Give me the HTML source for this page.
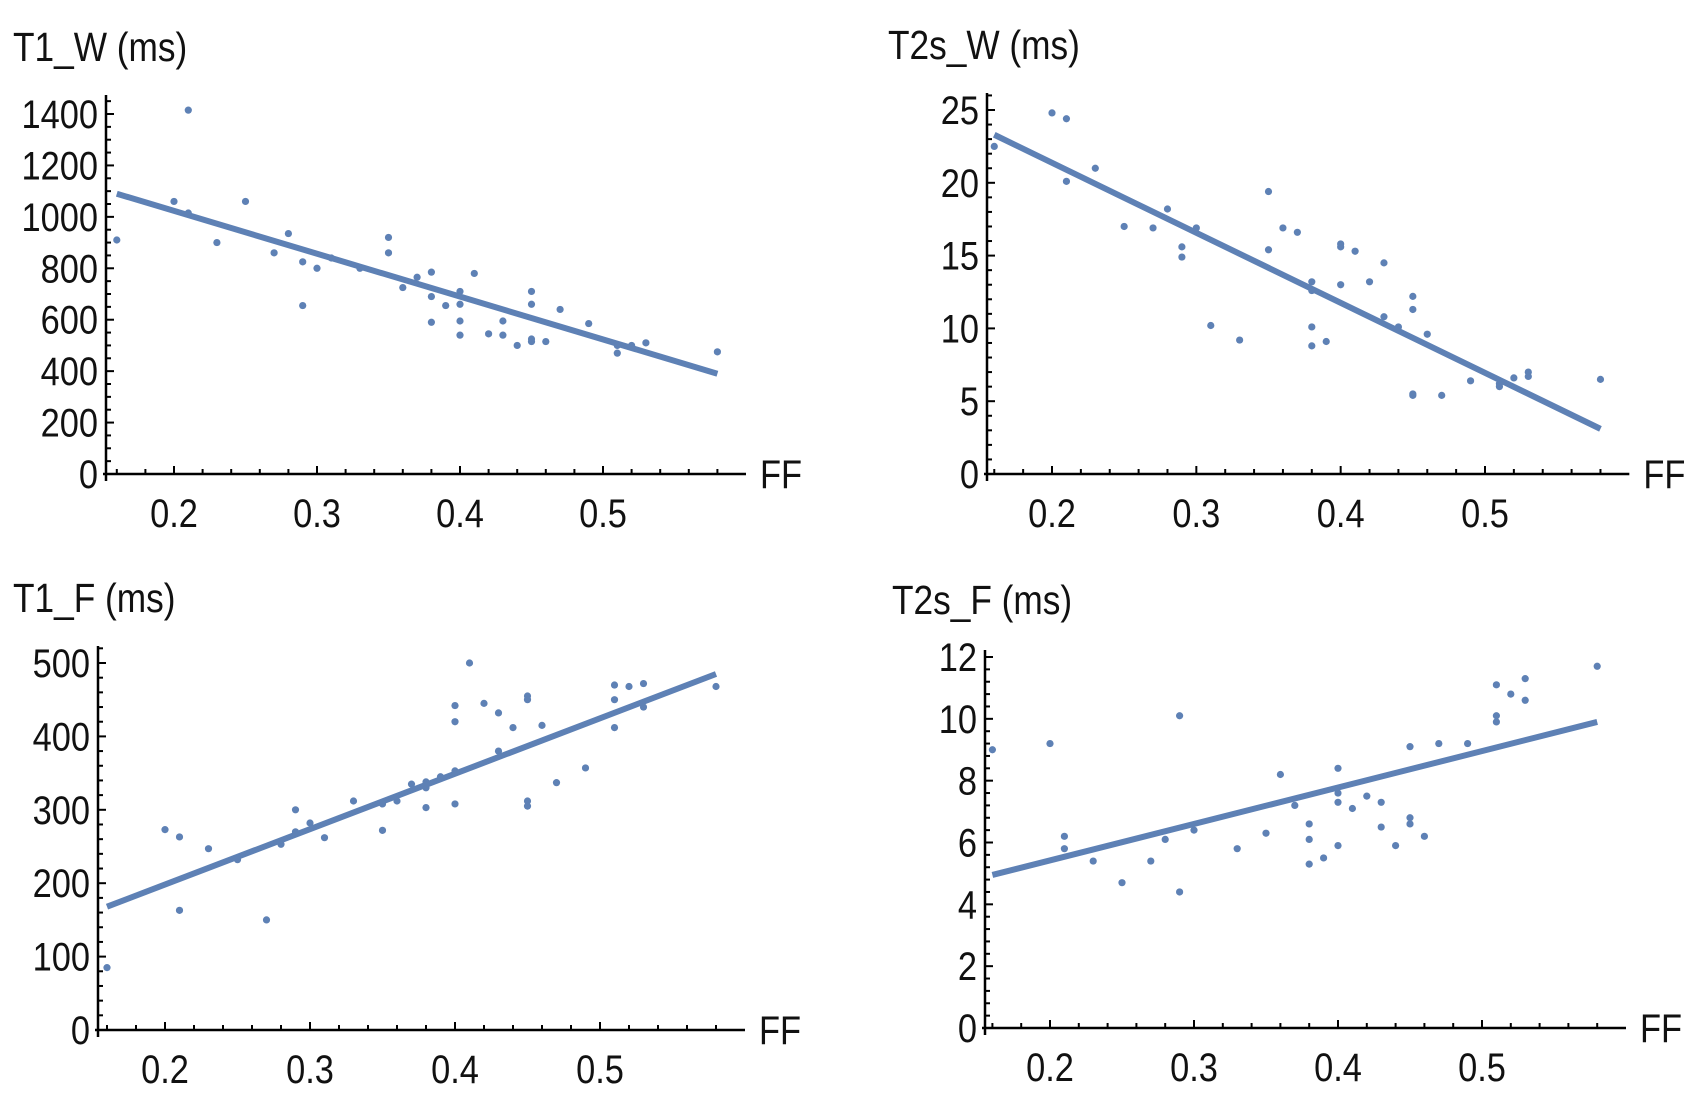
<!DOCTYPE html>
<html><head><meta charset="utf-8"><style>
html,body{margin:0;padding:0;background:#fff;}
svg{display:block;}
text{font-family:"Liberation Sans",sans-serif;fill:#111;}
</style></head><body>
<svg id="chart" width="1701" height="1112" viewBox="0 0 1701 1112" xmlns="http://www.w3.org/2000/svg"></svg>
<script>
// ---- data ----
const t1wX=[0.16,0.20,0.21,0.21,0.23,0.25,0.27,0.28,0.29,0.29,0.30,0.31,0.33,0.35,0.35,0.36,0.37,0.38,0.38,0.38,0.39,0.40,0.40,0.40,0.40,0.41,0.42,0.43,0.43,0.44,0.45,0.45,0.45,0.45,0.46,0.47,0.49,0.51,0.51,0.52,0.53,0.58];
const t1wY=[910,1060,1415,1015,900,1060,860,935,825,655,800,840,800,920,860,725,765,785,690,590,655,710,660,595,540,780,545,595,540,500,710,660,525,515,515,640,585,470,500,500,510,475];
const t1wFit=[1090,390];
const t2wX=[0.16,0.20,0.21,0.21,0.23,0.25,0.27,0.28,0.29,0.29,0.30,0.31,0.33,0.35,0.35,0.36,0.37,0.38,0.38,0.38,0.38,0.39,0.40,0.40,0.40,0.41,0.42,0.43,0.43,0.44,0.45,0.45,0.45,0.45,0.46,0.47,0.49,0.51,0.51,0.52,0.53,0.53,0.58];
const t2wY=[22.5,24.8,24.4,20.1,21,17,16.9,18.2,15.6,14.9,16.9,10.2,9.2,19.4,15.4,16.9,16.6,13.2,12.6,10.1,8.8,9.1,15.8,15.6,13.0,15.3,13.2,14.5,10.8,10.1,12.2,11.3,5.5,5.4,9.6,5.4,6.4,6.2,6.0,6.6,7.0,6.7,6.5];
const t2wFit=[23.3,3.1];
const t1fX=[0.16,0.20,0.21,0.21,0.23,0.25,0.27,0.28,0.29,0.29,0.30,0.31,0.33,0.35,0.35,0.36,0.37,0.38,0.38,0.38,0.39,0.40,0.40,0.40,0.40,0.41,0.42,0.43,0.43,0.44,0.45,0.45,0.45,0.45,0.46,0.47,0.49,0.51,0.51,0.51,0.52,0.53,0.53,0.58];
const t1fY=[85,273,263,163,247,232,150,253,300,270,282,262,312,308,272,312,335,338,303,330,345,442,420,353,308,500,445,432,380,412,455,450,312,305,415,337,357,470,450,412,468,472,440,468];
const t1fFit=[168,485];
const t2fX=[0.16,0.20,0.21,0.21,0.23,0.25,0.27,0.28,0.29,0.29,0.30,0.33,0.35,0.36,0.37,0.38,0.38,0.38,0.39,0.40,0.40,0.40,0.40,0.41,0.42,0.43,0.43,0.44,0.45,0.45,0.45,0.46,0.47,0.49,0.51,0.51,0.51,0.52,0.53,0.53,0.58];
const t2fY=[9.0,9.2,6.2,5.8,5.4,4.7,5.4,6.1,10.1,4.4,6.4,5.8,6.3,8.2,7.2,6.6,6.1,5.3,5.5,8.4,7.6,7.3,5.9,7.1,7.5,7.3,6.5,5.9,9.1,6.8,6.6,6.2,9.2,9.2,11.1,10.1,9.9,10.8,11.3,10.6,11.7];
const t2fFit=[4.95,9.9];
const xTickLabels=[0.2,0.3,0.4,0.5];
const t1wTicks=[0,200,400,600,800,1000,1200,1400];
const t2wTicks=[0,5,10,15,20,25];
const t1fTicks=[0,100,200,300,400,500];
const t2fTicks=[0,2,4,6,8,10,12];

const NS="http://www.w3.org/2000/svg";
const svg=document.getElementById('chart');
function mk(tag,attrs,parent){const e=document.createElementNS(NS,tag);for(const k in attrs)e.setAttribute(k,attrs[k]);(parent||svg).appendChild(e);return e;}
function txt(x,y,s,anchor,size,parent){
 const t=mk('text',{transform:'translate('+x+','+y+') scale(0.86,1)','font-size':size,'text-anchor':anchor},parent);
 t.textContent=s;return t;}

const panels=[
 {key:'t1w',title:'T1_W (ms)',xs:t1wX,ys:t1wY,fit:t1wFit,ticks:t1wTicks,minor:50,ax:106,ay:474,x02:174,x05:603,ytop:114,yTopVal:1400,yEnd:95,tx:13,ty:58},
 {key:'t2w',title:'T2s_W (ms)',xs:t2wX,ys:t2wY,fit:t2wFit,ticks:t2wTicks,minor:1,ax:987,ay:474,x02:1052,x05:1485,ytop:110,yTopVal:25,yEnd:93,tx:888,ty:56},
 {key:'t1f',title:'T1_F (ms)',xs:t1fX,ys:t1fY,fit:t1fFit,ticks:t1fTicks,minor:20,ax:98,ay:1030,x02:165,x05:600,ytop:663,yTopVal:500,yEnd:646,tx:13,ty:609},
 {key:'t2f',title:'T2s_F (ms)',xs:t2fX,ys:t2fY,fit:t2fFit,ticks:t2fTicks,minor:0.4,ax:985,ay:1028,x02:1050,x05:1482,ytop:657,yTopVal:12,yEnd:650,tx:892,ty:611}
];
const blue='#5e81b5';
panels.forEach(p=>{
 const g=mk('g',{});
 
 
 const sx=v=>p.x02+(v-0.2)/0.3*(p.x05-p.x02);
 const sy=v=>p.ay-v/p.yTopVal*(p.ay-p.ytop);
 const xEnd=sx(0.6);
 const t=txt(p.tx,p.ty+3,p.title,'start',41,g);
 
 
 const xa=mk('line',{x1:p.ax-3,y1:p.ay,x2:xEnd,y2:p.ay,stroke:'#000','stroke-width':2.5},g);
 
 
 const ya=mk('line',{x1:p.ax,y1:p.ay+7,x2:p.ax,y2:p.yEnd,stroke:'#000','stroke-width':2.5},g);
 
 
 for(let i=8;i<=29;i++){const v=i*0.02;const X=sx(v);if(X<p.ax)continue;
  const major=Math.abs(v*10-Math.round(v*10))<1e-6;
  mk('line',{x1:X,y1:p.ay,x2:X,y2:p.ay-(major?8:5),stroke:'#000','stroke-width':2},g);}
 xTickLabels.forEach(v=>{const l=txt(sx(v),p.ay+53,v.toFixed(1),'middle',40,g);
  
  });
 const ff=txt(xEnd+14,p.ay+14,'FF','start',40,g);
 
 
 const maxV=(p.ay-p.yEnd)/(p.ay-p.ytop)*p.yTopVal;
 for(let k=0;k*p.minor<=maxV+1e-9;k++){const v=k*p.minor;const Y=sy(v);
  const major=p.ticks.some(tv=>Math.abs(tv-v)<1e-6);
  mk('line',{x1:p.ax,y1:Y,x2:p.ax+(major?8:5),y2:Y,stroke:'#000','stroke-width':2},g);}
 p.ticks.forEach(v=>{const l=txt(p.ax-8,sy(v)+14,String(v),'end',40,g);
  
  });
 p.xs.forEach((xv,i)=>{const c=mk('circle',{cx:sx(xv),cy:sy(p.ys[i]),r:3.6,fill:blue},g);
  
  });
 const fl=mk('line',{x1:sx(0.16),y1:sy(p.fit[0]),x2:sx(0.58),y2:sy(p.fit[1]),stroke:blue,'stroke-width':6},g);
 
 
});
</script>
</body></html>
